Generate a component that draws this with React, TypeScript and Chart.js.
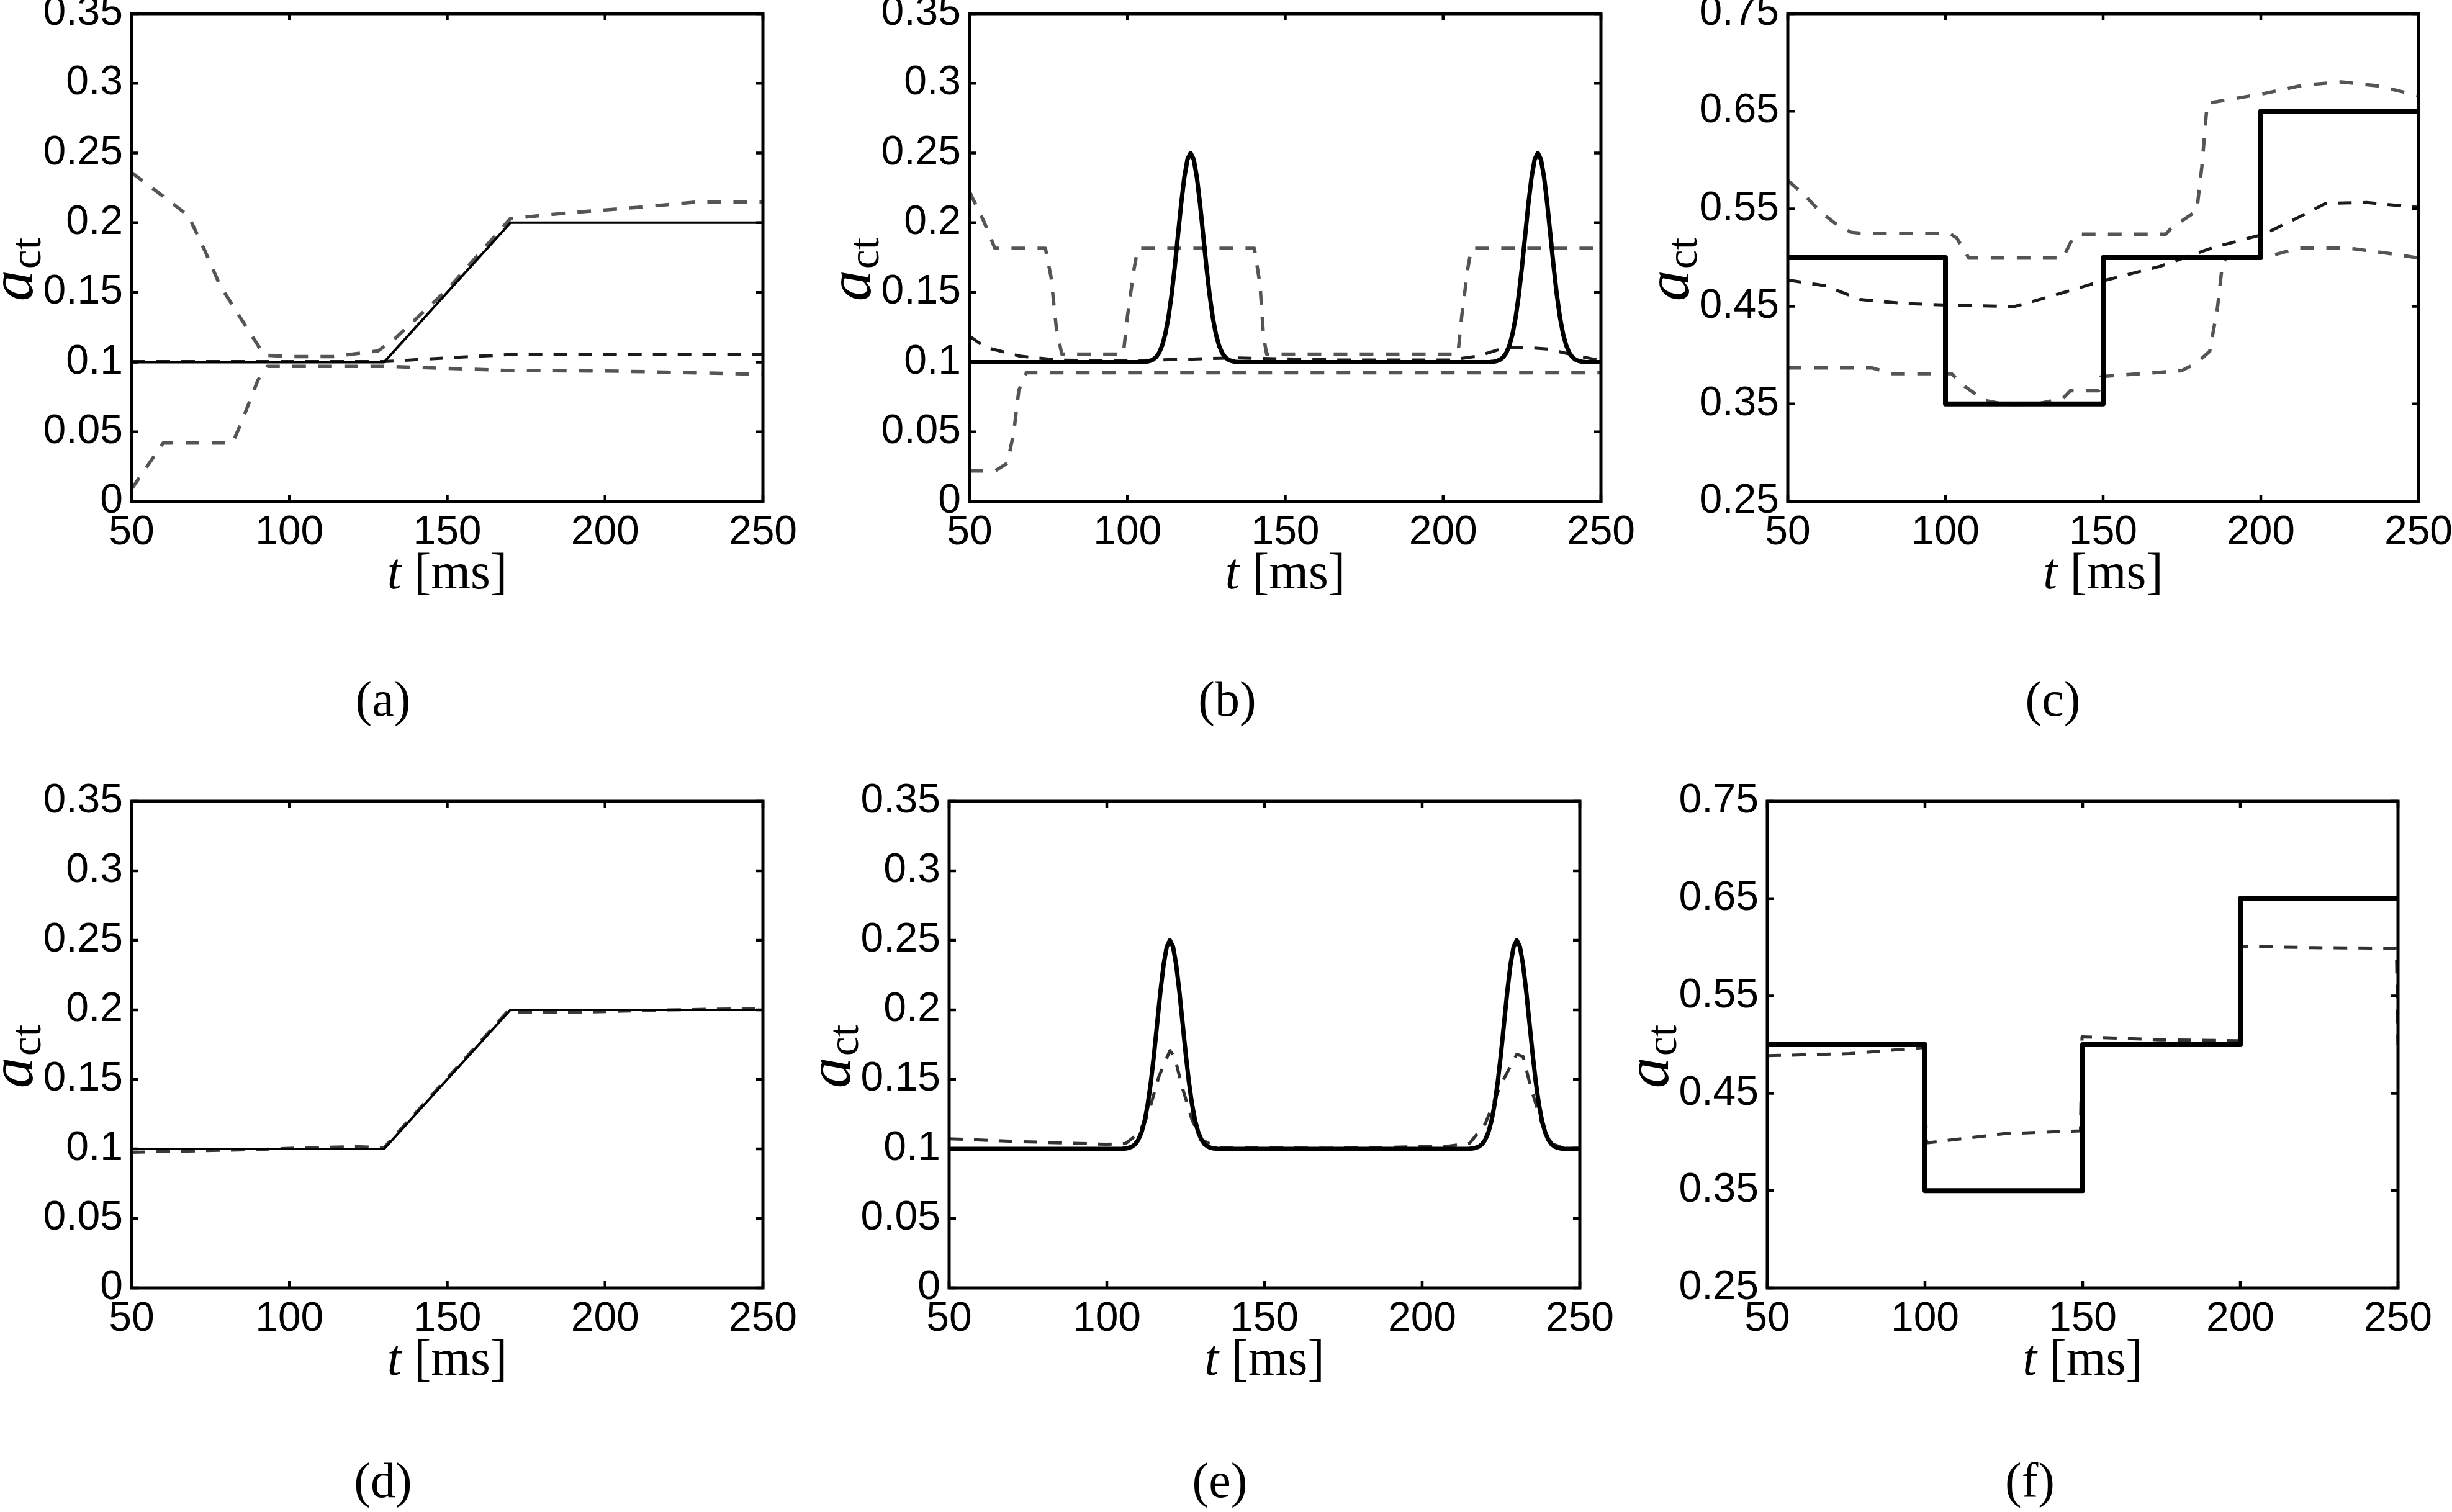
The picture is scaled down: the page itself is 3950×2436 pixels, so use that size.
import React, { useEffect, useRef } from "react";
import { Chart, registerables } from "chart.js";
Chart.register(...registerables);

// ---------- tick values / text ----------
const X_TICKS = [50, 100, 150, 200, 250];
const Y_TICKS_LOW = [0, 0.05, 0.1, 0.15, 0.2, 0.25, 0.3, 0.35];
const Y_TICKS_HIGH = [0.25, 0.35, 0.45, 0.55, 0.65, 0.75];
const X_LABEL_VAR = "t";
const X_LABEL_UNIT = "[ms]";
const Y_LABEL_VAR = "a";
const Y_LABEL_SUB = "ct";
const CAPTIONS = ["(a)", "(b)", "(c)", "(d)", "(e)", "(f)"];

// ---------- true activation profiles ----------
const T_RAMP = [50, 130, 170, 250];
const V_RAMP = [0.1, 0.1, 0.2, 0.2];

const T_STEP = [50, 100, 100, 150, 150, 200, 200, 250];
const V_STEP = [0.5, 0.5, 0.35, 0.35, 0.5, 0.5, 0.65, 0.65];

const T_PULSE = [
  50,
  104, 105, 106, 107, 108, 109, 110, 111, 112, 113, 114, 115, 116, 117, 118, 119, 120,
  121, 122, 123, 124, 125, 126, 127, 128, 129, 130, 131, 132, 133, 134, 135, 136,
  214, 215, 216, 217, 218, 219, 220, 221, 222, 223, 224, 225, 226, 227, 228, 229, 230,
  231, 232, 233, 234, 235, 236, 237, 238, 239, 240, 241, 242, 243, 244, 245, 246,
  250,
];
const V_PULSE = [
  0.1,
  0.1, 0.1001, 0.1003, 0.1008, 0.1017, 0.1034, 0.1066, 0.1119, 0.1203, 0.1324, 0.1487, 0.1687, 0.191, 0.2133, 0.2324, 0.2454, 0.25,
  0.2454, 0.2324, 0.2133, 0.191, 0.1687, 0.1487, 0.1324, 0.1203, 0.1119, 0.1066, 0.1034, 0.1017, 0.1008, 0.1003, 0.1001, 0.1,
  0.1, 0.1001, 0.1003, 0.1008, 0.1017, 0.1034, 0.1066, 0.1119, 0.1203, 0.1324, 0.1487, 0.1687, 0.191, 0.2133, 0.2324, 0.2454, 0.25,
  0.2454, 0.2324, 0.2133, 0.191, 0.1687, 0.1487, 0.1324, 0.1203, 0.1119, 0.1066, 0.1034, 0.1017, 0.1008, 0.1003, 0.1001, 0.1,
  0.1,
];

// ---------- panel (a) estimates ----------
const A_UP_T = [50, 60, 68, 73, 78, 85, 92, 100, 114, 128, 133, 150, 170, 188, 210, 230, 250];
const A_UP_V = [0.236, 0.219, 0.205, 0.181, 0.155, 0.13, 0.105, 0.104, 0.104, 0.108, 0.116, 0.152, 0.203, 0.207, 0.211, 0.215, 0.215];
const A_LO_T = [50, 60, 82, 85, 90, 93, 130, 170, 205, 250];
const A_LO_V = [0.009, 0.042, 0.042, 0.058, 0.087, 0.097, 0.097, 0.094, 0.0935, 0.0913];
const A_MID_T = [50, 130, 150, 170, 250];
const A_MID_V = [0.1004, 0.1004, 0.103, 0.1055, 0.1055];

// ---------- panel (b) estimates ----------
const B_UP_T = [50, 54.5, 58, 74, 75.8, 77.5, 79.2, 98.7, 100, 102.1, 103.3, 140.2, 142, 143.1, 144.1, 204.7, 205.9, 207.8, 209, 250];
const B_UP_V = [0.222, 0.201, 0.1817, 0.1817, 0.161, 0.124, 0.1058, 0.1058, 0.133, 0.167, 0.1817, 0.1817, 0.1555, 0.1186, 0.1058, 0.1058, 0.133, 0.167, 0.1817, 0.1817];
const B_LO_T = [50, 58, 62, 64, 65.6, 68, 250];
const B_LO_V = [0.0219, 0.0219, 0.0276, 0.05, 0.08, 0.0924, 0.0924];
const B_MID_T = [50, 55, 66, 78, 100, 117, 134, 168, 202, 211, 219, 226, 233, 240, 250];
const B_MID_V = [0.1186, 0.1106, 0.1043, 0.1015, 0.101, 0.102, 0.103, 0.1015, 0.1015, 0.1043, 0.11, 0.1106, 0.1094, 0.1058, 0.101];

// ---------- panel (c) estimates ----------
const C_UP_T = [50, 55, 60, 65, 70, 73, 101.2, 103.6, 107.4, 137.2, 140.4, 142.9, 169.9, 171.5, 179.7, 181.3, 183, 184.6, 200.9, 214, 225.5, 237, 250];
const C_UP_V = [0.579, 0.565, 0.548, 0.535, 0.526, 0.525, 0.525, 0.52, 0.4996, 0.4996, 0.52, 0.524, 0.524, 0.53, 0.548, 0.593, 0.658, 0.659, 0.668, 0.677, 0.68, 0.676, 0.666];
const C_MID_T = [50, 62, 73, 86.5, 103, 122, 132, 148.6, 168, 184.6, 201, 212.4, 220.6, 233.6, 250];
const C_MID_V = [0.477, 0.471, 0.457, 0.453, 0.451, 0.45, 0.459, 0.475, 0.491, 0.51, 0.524, 0.542, 0.5556, 0.5564, 0.5515];
const C_LO_T = [50, 76.7, 83.2, 101.9, 106.1, 112.6, 119.2, 129, 137.2, 139.6, 148.6, 149.4, 161.7, 174.8, 179.7, 183.8, 186.2, 187.9, 189.5, 200.9, 212.4, 227.1, 240.2, 250];
const C_LO_V = [0.387, 0.387, 0.381, 0.381, 0.368, 0.3535, 0.3494, 0.35, 0.3555, 0.3636, 0.3636, 0.378, 0.381, 0.384, 0.392, 0.404, 0.447, 0.4955, 0.5, 0.5, 0.51, 0.51, 0.5045, 0.4996];

// ---------- panels (d), (e), (f) estimates ----------
const D_EST_T = [50, 73, 90, 106, 122, 130, 150, 169, 188, 220, 250];
const D_EST_V = [0.0976, 0.0987, 0.0996, 0.101, 0.1016, 0.101, 0.151, 0.1986, 0.198, 0.2, 0.201];
const E_EST_T = [50, 72, 100, 106, 110, 113, 116.5, 120, 121.5, 124, 127, 130, 135, 170, 208, 215, 220, 225, 230, 232, 234.5, 238, 241, 245, 250];
const E_EST_V = [0.1073, 0.1053, 0.1033, 0.1039, 0.111, 0.124, 0.152, 0.1707, 0.166, 0.1437, 0.121, 0.1067, 0.101, 0.1005, 0.1019, 0.1039, 0.118, 0.1465, 0.168, 0.1665, 0.1437, 0.118, 0.1039, 0.1004, 0.1004];
const F_EST_T = [50, 76, 99.5, 100.5, 125, 149.3, 149.8, 158, 174, 199.6, 200.3, 223, 249.5, 250];
const F_EST_V = [0.4886, 0.4907, 0.497, 0.399, 0.4085, 0.4114, 0.508, 0.507, 0.505, 0.504, 0.601, 0.5996, 0.599, 0.5];

// ---------- layout ----------
const PAD_L = 260;
const PAD_T = 60;
const PAD_R = 80;
const PAD_B = 200;

type Kind = "solid" | "gray" | "dark";
interface Series { t: number[]; v: number[]; kind: Kind; }
interface PanelSpec {
  rect: [number, number, number, number];
  yMin: number; yMax: number; yTicks: number[];
  solidWidth: number; darkColor: string;
  series: Series[];
  caption: string; captionPos: [number, number];
}

const PANELS: PanelSpec[] = [
  {
    rect: [212, 22, 1229, 808], yMin: 0, yMax: 0.35, yTicks: Y_TICKS_LOW, solidWidth: 4, darkColor: "#1c1c1c",
    series: [
      { t: T_RAMP, v: V_RAMP, kind: "solid" },
      { t: A_MID_T, v: A_MID_V, kind: "dark" },
      { t: A_UP_T, v: A_UP_V, kind: "gray" },
      { t: A_LO_T, v: A_LO_V, kind: "gray" },
    ],
    caption: CAPTIONS[0], captionPos: [617, 1126],
  },
  {
    rect: [1562, 22, 2579, 808], yMin: 0, yMax: 0.35, yTicks: Y_TICKS_LOW, solidWidth: 7, darkColor: "#1c1c1c",
    series: [
      { t: T_PULSE, v: V_PULSE, kind: "solid" },
      { t: B_MID_T, v: B_MID_V, kind: "dark" },
      { t: B_UP_T, v: B_UP_V, kind: "gray" },
      { t: B_LO_T, v: B_LO_V, kind: "gray" },
    ],
    caption: CAPTIONS[1], captionPos: [1977, 1126],
  },
  {
    rect: [2880, 22, 3896, 808], yMin: 0.25, yMax: 0.75, yTicks: Y_TICKS_HIGH, solidWidth: 8, darkColor: "#1c1c1c",
    series: [
      { t: T_STEP, v: V_STEP, kind: "solid" },
      { t: C_MID_T, v: C_MID_V, kind: "dark" },
      { t: C_UP_T, v: C_UP_V, kind: "gray" },
      { t: C_LO_T, v: C_LO_V, kind: "gray" },
    ],
    caption: CAPTIONS[2], captionPos: [3307, 1126],
  },
  {
    rect: [212, 1291, 1229, 2075], yMin: 0, yMax: 0.35, yTicks: Y_TICKS_LOW, solidWidth: 4, darkColor: "#3a3a3a",
    series: [
      { t: T_RAMP, v: V_RAMP, kind: "solid" },
      { t: D_EST_T, v: D_EST_V, kind: "dark" },
    ],
    caption: CAPTIONS[3], captionPos: [617, 2385],
  },
  {
    rect: [1529, 1291, 2545, 2075], yMin: 0, yMax: 0.35, yTicks: Y_TICKS_LOW, solidWidth: 7, darkColor: "#333333",
    series: [
      { t: T_PULSE, v: V_PULSE, kind: "solid" },
      { t: E_EST_T, v: E_EST_V, kind: "dark" },
    ],
    caption: CAPTIONS[4], captionPos: [1965, 2385],
  },
  {
    rect: [2847, 1291, 3863, 2075], yMin: 0.25, yMax: 0.75, yTicks: Y_TICKS_HIGH, solidWidth: 8, darkColor: "#333333",
    series: [
      { t: T_STEP, v: V_STEP, kind: "solid" },
      { t: F_EST_T, v: F_EST_V, kind: "dark" },
    ],
    caption: CAPTIONS[5], captionPos: [3270, 2385],
  },
];

const fmtTick = (v: number | string) => String(parseFloat(Number(v).toFixed(2)));

const framePlugin = {
  id: "matlabFrame",
  afterDatasetsDraw(chart: any) {
    const { ctx, chartArea: a, scales } = chart;
    ctx.save();
    ctx.strokeStyle = "#000";
    ctx.lineCap = "butt";
    ctx.lineWidth = 4.5;
    const TL = 11;
    ctx.beginPath();
    for (const t of scales.x.ticks) {
      const px = scales.x.getPixelForValue(t.value);
      ctx.moveTo(px, a.bottom); ctx.lineTo(px, a.bottom - TL);
      ctx.moveTo(px, a.top); ctx.lineTo(px, a.top + TL);
    }
    for (const t of scales.y.ticks) {
      const py = scales.y.getPixelForValue(t.value);
      ctx.moveTo(a.left, py); ctx.lineTo(a.left + TL, py);
      ctx.moveTo(a.right, py); ctx.lineTo(a.right - TL, py);
    }
    ctx.stroke();
    ctx.lineWidth = 5;
    ctx.lineJoin = "miter";
    ctx.strokeRect(a.left, a.top, a.right - a.left, a.bottom - a.top);
    ctx.restore();
  },
};

const labelPlugin = {
  id: "axisLabels",
  afterDraw(chart: any) {
    const { ctx, chartArea: a } = chart;
    ctx.save();
    ctx.fillStyle = "#000";
    ctx.textBaseline = "alphabetic";
    ctx.textAlign = "left";
    // x label: t [ms]
    const fI = 'italic 82px "Liberation Serif"';
    const fR = '82px "Liberation Serif"';
    ctx.font = fI;
    const wt = ctx.measureText(X_LABEL_VAR).width;
    ctx.font = fR;
    const ws = ctx.measureText(" ").width;
    const wu = ctx.measureText(X_LABEL_UNIT).width;
    const total = wt + ws + wu;
    const x0 = (a.left + a.right) / 2 - total / 2;
    const yb = a.bottom + 140;
    ctx.font = fI;
    ctx.fillText(X_LABEL_VAR, x0, yb);
    ctx.font = fR;
    ctx.fillText(X_LABEL_UNIT, x0 + wt + ws, yb);
    // y label: a_ct
    ctx.translate(a.left - 160, (a.top + a.bottom) / 2 + 20);
    ctx.rotate(-Math.PI / 2);
    const fA = 'italic 100px "Liberation Serif"';
    const fS = '70px "Liberation Serif"';
    ctx.font = fA;
    const wa = ctx.measureText(Y_LABEL_VAR).width;
    ctx.font = fS;
    const wc = ctx.measureText(Y_LABEL_SUB).width;
    const s0 = -(wa + wc) / 2;
    ctx.font = fA;
    ctx.fillText(Y_LABEL_VAR, s0, 0);
    ctx.font = fS;
    ctx.fillText(Y_LABEL_SUB, s0 + wa + 2, 13);
    ctx.restore();
  },
};

function Panel({ spec }: { spec: PanelSpec }) {
  const ref = useRef<HTMLCanvasElement>(null);
  const [L, T, R, B] = spec.rect;
  const w = R - L + PAD_L + PAD_R;
  const h = B - T + PAD_T + PAD_B;
  useEffect(() => {
    if (!ref.current) return;
    const datasets = spec.series.map((s) => {
      const base: any = {
        data: s.t.map((x, i) => ({ x, y: s.v[i] })),
        pointRadius: 0,
        pointHoverRadius: 0,
        tension: 0,
        fill: false,
        borderCapStyle: "butt",
        borderJoinStyle: "round",
      };
      if (s.kind === "solid") {
        base.borderColor = "#000000";
        base.borderWidth = spec.solidWidth;
      } else if (s.kind === "gray") {
        base.borderColor = "#555555";
        base.borderWidth = 5.5;
        base.borderDash = [22, 20];
      } else {
        base.borderColor = spec.darkColor;
        base.borderWidth = 5;
        base.borderDash = [22, 18];
      }
      return base;
    });
    const tickFont = { family: '"Liberation Sans", Arial, sans-serif', size: 66, lineHeight: 1.2 };
    const chart = new Chart(ref.current, {
      type: "line",
      data: { datasets },
      options: {
        animation: false,
        responsive: false,
        devicePixelRatio: 1,
        events: [],
        layout: { padding: { left: 0, top: PAD_T, right: PAD_R, bottom: 0 } },
        plugins: { legend: { display: false }, tooltip: { enabled: false }, title: { display: false } },
        scales: {
          x: {
            type: "linear",
            min: 50,
            max: 250,
            afterBuildTicks: (s: any) => { s.ticks = X_TICKS.map((value) => ({ value })); },
            afterFit: (s: any) => { s.height = PAD_B; },
            grid: { display: false, drawTicks: false },
            border: { display: false },
            ticks: { padding: 11, font: tickFont, color: "#000", maxRotation: 0, autoSkip: false, callback: (v: any) => fmtTick(v) },
          },
          y: {
            type: "linear",
            min: spec.yMin,
            max: spec.yMax,
            afterBuildTicks: (s: any) => { s.ticks = spec.yTicks.map((value) => ({ value })); },
            afterFit: (s: any) => { s.width = PAD_L; },
            grid: { display: false, drawTicks: false },
            border: { display: false },
            ticks: { padding: 14, font: tickFont, color: "#000", autoSkip: false, callback: (v: any) => fmtTick(v) },
          },
        },
      } as any,
      plugins: [framePlugin, labelPlugin],
    });
    return () => chart.destroy();
  }, []);
  return (
    <canvas
      ref={ref}
      width={w}
      height={h}
      style={{ position: "absolute", left: L - PAD_L, top: T - PAD_T, width: w, height: h }}
    />
  );
}

export default function App() {
  return (
    <div style={{ position: "absolute", left: 0, top: 0, width: 3950, height: 2436, background: "#ffffff", overflow: "hidden" }}>
      {PANELS.map((p, i) => (
        <Panel key={i} spec={p} />
      ))}
      {PANELS.map((p, i) => (
        <div
          key={"c" + i}
          style={{
            position: "absolute",
            left: p.captionPos[0],
            top: p.captionPos[1],
            transform: "translate(-50%, -50%)",
            fontFamily: '"Liberation Serif", serif',
            fontSize: 80,
            lineHeight: 1,
            color: "#000",
            whiteSpace: "nowrap",
          }}
        >
          {p.caption}
        </div>
      ))}
    </div>
  );
}
